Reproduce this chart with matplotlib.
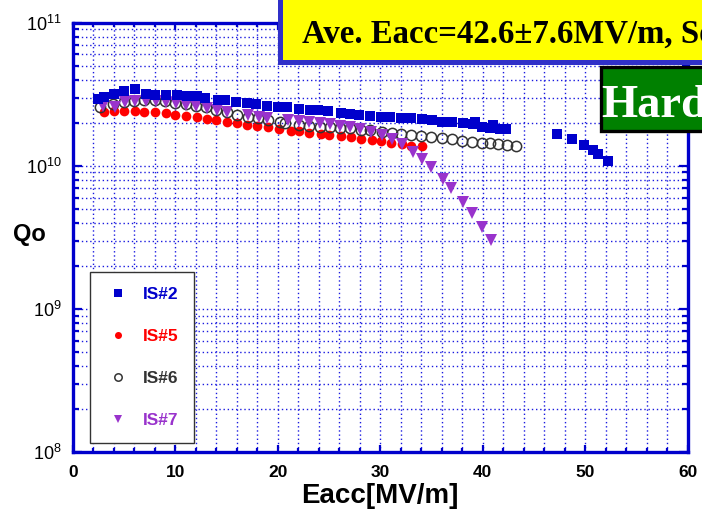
import numpy as np
import matplotlib
matplotlib.use('Agg')
import matplotlib.pyplot as plt
import matplotlib.ticker as ticker
from matplotlib.patches import Rectangle

plt.rcParams['font.family'] = ['Liberation Sans', 'DejaVu Sans']
plt.rcParams['mathtext.fontset'] = 'custom'
plt.rcParams['mathtext.rm'] = 'Liberation Sans'

#---------- Qo vs Eacc for the four cavities ----------
eacc_is2 = [2.44, 3.05, 4.03, 5.03, 6.07, 7.12, 8.03, 9.07, 10.15, 11.15, 12.16, 12.94,
            14.2, 14.9, 15.93, 16.98, 17.88, 18.93, 20.0, 20.94, 22.08, 23.15, 23.96,
            24.94, 26.15, 27.05, 27.96, 29.0, 30.05, 30.96, 32.03, 33.03, 34.05, 35.08,
            36.06, 37.0, 38.05, 39.02, 39.28, 39.9, 40.7, 41.03, 41.7, 42.27,
            47.28, 48.74, 49.88, 50.73, 51.22, 52.25]
qo_is2 = [2.92e10, 3.04e10, 3.18e10, 3.35e10, 3.46e10, 3.18e10, 3.13e10, 3.13e10, 3.13e10,
          3.09e10, 3.06e10, 2.99e10, 2.88e10, 2.88e10, 2.81e10, 2.76e10, 2.70e10, 2.62e10,
          2.56e10, 2.56e10, 2.50e10, 2.44e10, 2.44e10, 2.40e10, 2.35e10, 2.30e10, 2.27e10,
          2.24e10, 2.21e10, 2.21e10, 2.17e10, 2.15e10, 2.13e10, 2.09e10, 2.01e10, 2.01e10,
          2.00e10, 1.95e10, 2.04e10, 1.88e10, 1.84e10, 1.93e10, 1.81e10, 1.81e10,
          1.67e10, 1.54e10, 1.40e10, 1.29e10, 1.21e10, 1.09e10]

eacc_is5 = [3.05, 4.06, 5.03, 6.08, 6.99, 8.06, 9.07, 9.98, 11.05, 12.1, 13.07, 13.98,
            15.02, 16.0, 16.98, 18.0, 19.02, 20.16, 21.3, 22.08, 23.08, 24.22, 25.03,
            26.15, 27.12, 28.13, 29.17, 30.05, 31.02, 32.08, 33.05, 34.05]
qo_is5 = [2.36e10, 2.41e10, 2.43e10, 2.43e10, 2.39e10, 2.36e10, 2.33e10, 2.27e10, 2.23e10,
          2.18e10, 2.13e10, 2.09e10, 2.03e10, 1.98e10, 1.93e10, 1.90e10, 1.86e10, 1.80e10,
          1.75e10, 1.74e10, 1.71e10, 1.67e10, 1.65e10, 1.61e10, 1.59e10, 1.55e10, 1.52e10,
          1.49e10, 1.44e10, 1.42e10, 1.38e10, 1.37e10]

eacc_is6 = [2.66, 3.96, 5.03, 6.01, 6.99, 8.03, 9.0, 9.98, 11.02, 12.03, 12.98, 13.98,
            15.05, 16.03, 17.1, 18.03, 19.05, 20.22, 20.71, 22.1, 23.08, 24.16, 25.1,
            26.08, 27.1, 28.1, 29.03, 30.15, 31.12, 32.0, 32.99, 33.98, 34.99, 36.0,
            36.98, 37.95, 39.0, 39.95, 40.74, 41.52, 42.34, 43.28]
qo_is6 = [2.56e10, 2.70e10, 2.81e10, 2.84e10, 2.87e10, 2.87e10, 2.84e10, 2.76e10, 2.69e10,
          2.62e10, 2.56e10, 2.44e10, 2.39e10, 2.28e10, 2.19e10, 2.15e10, 2.09e10, 2.03e10,
          2.00e10, 1.93e10, 1.89e10, 1.87e10, 1.87e10, 1.85e10, 1.83e10, 1.78e10, 1.77e10,
          1.73e10, 1.70e10, 1.66e10, 1.64e10, 1.62e10, 1.58e10, 1.56e10, 1.53e10, 1.50e10,
          1.48e10, 1.45e10, 1.44e10, 1.42e10, 1.40e10, 1.38e10]

eacc_is7 = [2.99, 4.13, 5.1, 6.08, 7.12, 8.1, 9.07, 10.05, 11.05, 12.03, 13.07, 14.05, 15.1,
            17.13, 18.13, 19.0, 20.99, 22.03, 23.02, 24.16, 25.06, 26.08, 27.05, 28.03,
            29.07, 30.15, 31.12, 32.1, 33.17, 34.1, 34.94, 36.13, 36.94, 38.08, 38.93,
            39.96, 40.81]
qo_is7 = [2.62e10, 2.56e10, 2.81e10, 2.85e10, 2.85e10, 2.84e10, 2.78e10, 2.74e10, 2.66e10,
          2.62e10, 2.55e10, 2.45e10, 2.39e10, 2.27e10, 2.21e10, 2.15e10, 2.10e10, 2.07e10,
          2.03e10, 2.00e10, 1.96e10, 1.91e10, 1.86e10, 1.81e10, 1.73e10, 1.64e10, 1.53e10,
          1.42e10, 1.26e10, 1.11e10, 9.83e9, 8.12e9, 6.98e9, 5.62e9, 4.70e9, 3.74e9, 3.04e9]

labels = ['IS#2', 'IS#5', 'IS#6', 'IS#7']
colors = ['#0000cc', '#ff0000', '#333333', '#9933cc']

W, H = 702, 509
fig = plt.figure(figsize=(W/100, H/100), dpi=100)
ax = fig.add_axes([72.7/W, 1-452.3/H, 615.0/W, 429.6/H])

blue = '#0000cc'
ax.plot(eacc_is2, qo_is2, 's', color=colors[0], ms=7.3, mew=0, label=labels[0], zorder=5)
ax.plot(eacc_is5, qo_is5, 'o', color=colors[1], ms=7.0, mew=0, label=labels[1], zorder=3)
ax.plot(eacc_is6, qo_is6, 'o', mfc='none', mec=colors[2], ms=7.4, mew=1.1, label=labels[2], zorder=4)
ax.plot(eacc_is7, qo_is7, 'v', color=colors[3], ms=8.6, mew=0, label=labels[3], zorder=4)

ax.set_yscale('log')
ax.set_xlim(0, 60)
ax.set_ylim(1e8, 1e11)
ax.xaxis.set_major_locator(ticker.MultipleLocator(10))
ax.xaxis.set_minor_locator(ticker.MultipleLocator(2))
ax.yaxis.set_major_locator(ticker.LogLocator(base=10, numticks=10))
ax.yaxis.set_minor_locator(ticker.LogLocator(base=10, subs=np.arange(2, 10), numticks=10))
ax.yaxis.set_minor_formatter(ticker.NullFormatter())
ax.yaxis.set_major_formatter(ticker.FuncFormatter(lambda v, p: r'$10^{%d}$' % round(np.log10(v))))

ax.grid(which='both', color='#1a1ae0', linestyle=(0, (1, 2.0)), linewidth=1.0)
ax.set_axisbelow(True)

for s in ax.spines.values():
    s.set_color(blue)
    s.set_linewidth(2.4)

ax.tick_params(axis='both', which='both', direction='in', top=True, right=True,
               color=blue, width=1.6)
ax.tick_params(axis='x', which='major', length=5, pad=9, labelsize=12.5)
ax.tick_params(axis='x', which='minor', length=2.8)
ax.tick_params(axis='y', which='major', length=6.5, pad=8, labelsize=13)
ax.tick_params(axis='y', which='minor', length=4.3)
for t in ax.get_xticklabels():
    t.set_fontweight('bold')

ax.set_xlabel('Eacc[MV/m]', fontsize=20, fontweight='bold', labelpad=2)
fig.text(13/W, 1-241.5/H, 'Qo', fontsize=17, fontweight='bold', ha='left', va='baseline')

leg = ax.legend(loc='upper left', bbox_to_anchor=(0.0286, 0.419), borderaxespad=0,
                prop={'weight': 'bold', 'size': 12.5},
                labelspacing=1.55, handletextpad=0.7, borderpad=0.85,
                markerscale=0.72, fancybox=False, framealpha=1, edgecolor='#333333',
                handlelength=1.5)
leg.get_frame().set_linewidth(1.0)
for txt, c in zip(leg.get_texts(), colors):
    txt.set_color(c)

# header boxes running off the top right corner
fig.add_artist(Rectangle((279.5/W, 1-61.8/H), 600/W, 100/H, transform=fig.transFigure,
                         facecolor='#ffff00', edgecolor='#3030c8', linewidth=3.6, zorder=10))
fig.text(302/W, 1-43/H, 'Ave. Eacc=42.6\u00b17.6MV/m, So', fontsize=23.6, fontweight='bold',
         family='Liberation Serif', color='black', ha='left', va='baseline', zorder=11)
fig.add_artist(Rectangle((601/W, 1-130.5/H), 200/W, 63/H, transform=fig.transFigure,
                         facecolor='#008000', edgecolor='black', linewidth=2.4, zorder=10))
fig.text(601.5/W, 1-116.7/H, 'Hard', fontsize=33.5, fontweight='bold',
         family='Liberation Serif', color='white', ha='left', va='baseline', zorder=11)

fig.savefig('out.png', dpi=100)
